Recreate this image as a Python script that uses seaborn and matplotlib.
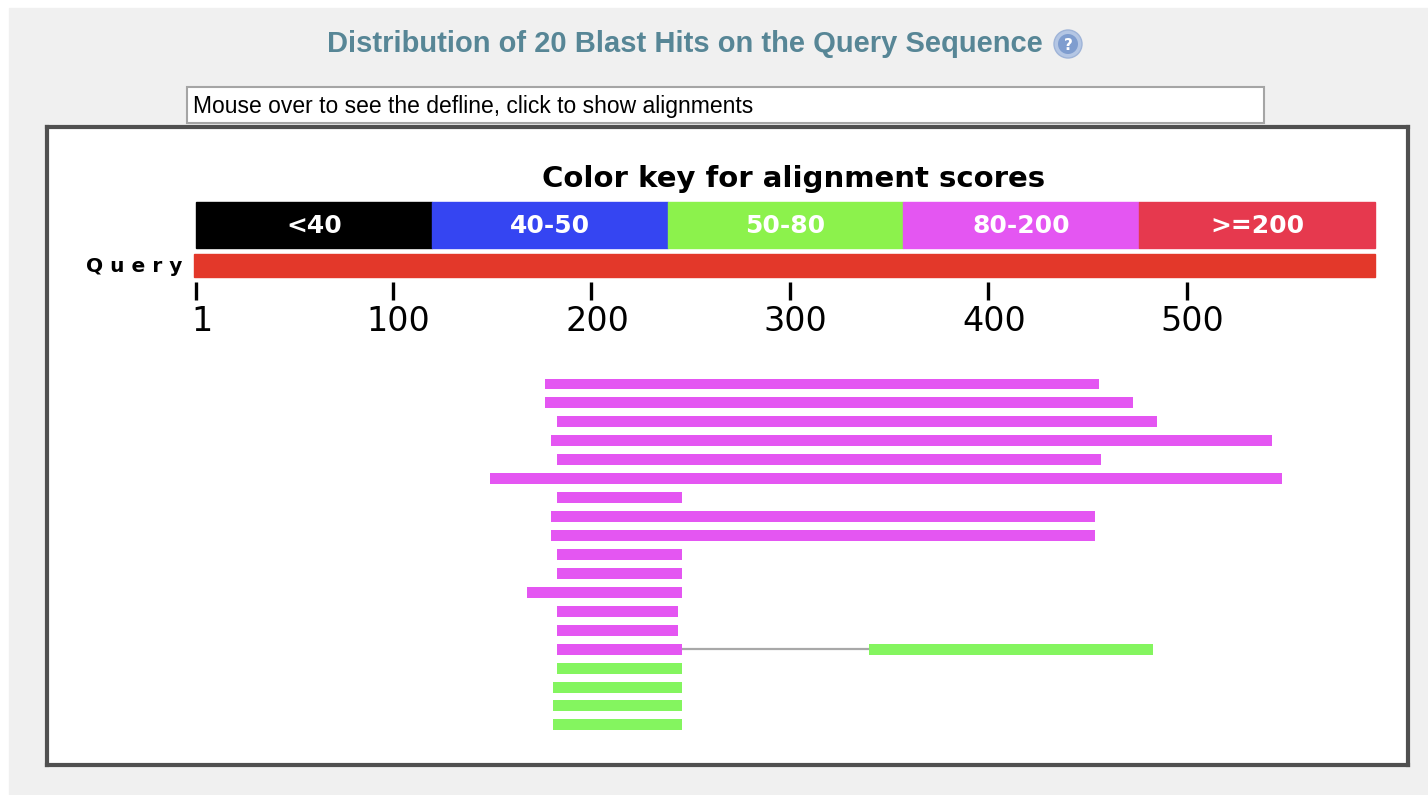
import numpy as np
import pandas as pd
import matplotlib
matplotlib.use('Agg')
import matplotlib.pyplot as plt
from matplotlib.patches import Rectangle, Circle
import seaborn as sns

# 데이터
query_len = 595
score_bins = ['<40', '40-50', '50-80', '80-200', '>=200']
bin_colors = ['#000000', '#3545f2', '#8cf24c', '#e456f2', '#e6394e']
tick_values = [1, 100, 200, 300, 400, 500]

hit_start = [177, 177, 183, 180, 183, 149, 183, 180, 180, 183,
             183, 168, 183, 183, 183, 183, 181, 181, 181]
hit_end = [456, 473, 485, 543, 457, 548, 246, 454, 454, 246,
           246, 246, 244, 244, 246, 246, 246, 246, 246]
hit_bin = ['80-200'] * 15 + ['50-80'] * 4
# 두번째 HSP (15번째 줄)
extra_row = 14
extra_start = 340
extra_end = 483
extra_bin = '50-80'

hits = pd.DataFrame({'row': range(len(hit_start)), 'start': hit_start,
                     'end': hit_end, 'bin': hit_bin})
pal = dict(zip(score_bins, sns.color_palette(bin_colors)))
pal['50-80'] = '#84f55f'  # 히트 막대의 초록은 조금 다름

sns.set_style('white')
plt.rcParams['font.family'] = ['DejaVu Sans']

W, H = 1428, 795
fig = plt.figure(figsize=(W / 100, H / 100), dpi=100, facecolor='white')


def px(x, y):
    return (x / 100, (H - y) / 100)


# 회색 배경
fig.add_artist(Rectangle(px(9, H), (W - 9) / 100, (H - 8) / 100,
                         transform=fig.dpi_scale_trans, color='#f0f0f0', zorder=0))

# 제목
fig.text(*px(685, 44), 'Distribution of 20 Blast Hits on the Query Sequence',
         transform=fig.dpi_scale_trans, ha='center', va='center',
         fontsize=21, fontweight='bold', color='#578696',
         family=['Liberation Sans Narrow', 'Liberation Sans'])
fig.add_artist(Circle(px(1068, 44), 0.14, transform=fig.dpi_scale_trans,
                      facecolor='#b4c6e4', edgecolor='#9fb4d8', lw=1, zorder=3))
fig.add_artist(Circle(px(1068, 44), 0.10, transform=fig.dpi_scale_trans,
                      facecolor='#7f9dcf', edgecolor='none', zorder=4))
fig.text(*px(1068, 45), '?', transform=fig.dpi_scale_trans, ha='center',
         va='center', fontsize=11, fontweight='bold', color='white', zorder=5)

# 안내 박스
fig.add_artist(Rectangle(px(187, 123), (1264 - 187) / 100, (123 - 87) / 100,
                         transform=fig.dpi_scale_trans, facecolor='white',
                         edgecolor='#a5a5a5', lw=1.5, zorder=1))
fig.text(*px(193, 106), 'Mouse over to see the defline, click to show alignments',
         transform=fig.dpi_scale_trans, ha='left', va='center', fontsize=16.5,
         family=['Liberation Sans'], color='black', zorder=2)

# 메인 패널
L, R, T, B = 47, 1408, 127, 765
ax = fig.add_axes([L / W, 1 - B / H, (R - L) / W, (B - T) / H])
ppu = 1.985
ax.set_xlim(1 + (L - 196) / ppu, 1 + (R - 196) / ppu)
row_px = 18.94
ax.set_ylim((B - 384) / row_px, (T - 384) / row_px)
ax.set_xticks([])
ax.set_yticks([])
for s in ax.spines.values():
    s.set_color('#505050')
    s.set_linewidth(3)


def yr(ypx):
    return (ypx - 384) / row_px


# 컬러 키
seg = (query_len - 1) / len(score_bins)
for i, (lab, c) in enumerate(zip(score_bins, bin_colors)):
    x0 = 1 + i * seg
    ax.add_patch(Rectangle((x0, yr(202)), seg, yr(248) - yr(202), color=c))
    ax.text(x0 + seg / 2, yr(226), lab, ha='center', va='center',
            color='white', fontsize=18, fontweight='bold')
ax.text((1 + query_len) / 2 + 4, yr(179), 'Color key for alignment scores',
        ha='center', va='center', fontsize=21, fontweight='bold', color='black')

# Query 막대
ax.add_patch(Rectangle((0, yr(254)), query_len, yr(277) - yr(254), color='#e3382a'))
ax.text(-6, yr(266), 'Q u e r y', ha='right', va='center',
        fontsize=14.5, fontweight='bold', color='black')
ax.vlines(tick_values, yr(282), yr(300), color='black', lw=2.4)
for t in tick_values:
    ax.text(t + 3, yr(322), str(t), ha='center', va='center',
            fontsize=24, color='black')

# 히트
ax.plot([hit_end[extra_row], extra_start], [extra_row, extra_row],
        color='#a8a8a8', lw=1.6, zorder=1)
for _, r in hits.iterrows():
    ax.barh(r['row'], r['end'] - r['start'], left=r['start'], height=0.58,
            color=pal[r['bin']], edgecolor='none', zorder=2)
ax.barh(extra_row, extra_end - extra_start, left=extra_start, height=0.58,
        color=pal[extra_bin], edgecolor='none', zorder=2)

fig.savefig('out.png', dpi=100, facecolor=fig.get_facecolor())
